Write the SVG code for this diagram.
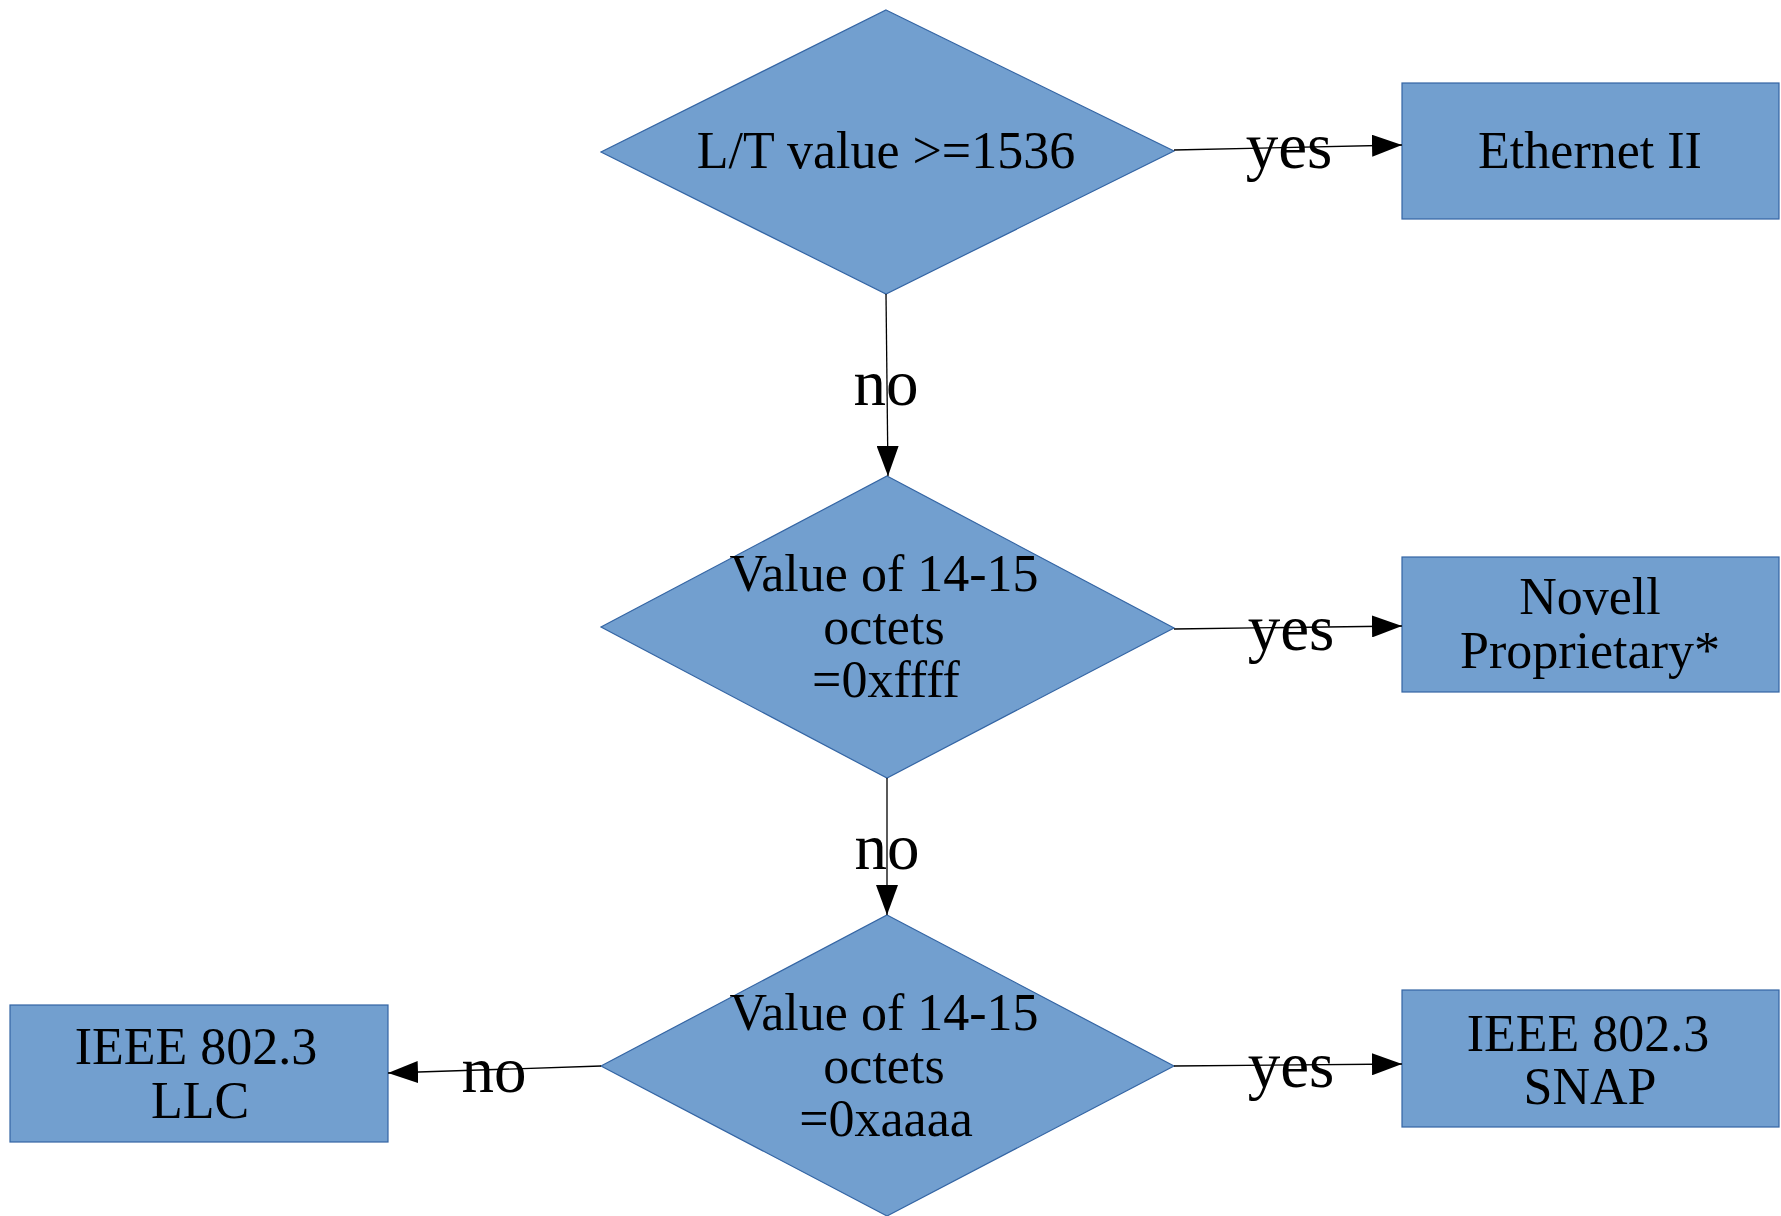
<svg xmlns="http://www.w3.org/2000/svg" width="1781" height="1216" viewBox="0 0 1781 1216">
  <style>
    .shape { fill: #729fcf; stroke: #3465a4; stroke-width: 1.2; }
    .node-text { font-family: "Liberation Serif", "Times New Roman", serif; font-size: 52px; fill: #000; text-anchor: middle; }
    .edge { fill: none; stroke: #000; stroke-width: 1.3; }
    .edge-label { font-family: "Liberation Serif", "Times New Roman", serif; font-size: 65px; fill: #000; text-anchor: middle; }
  </style>
  <defs>
    <marker id="arrow" markerUnits="userSpaceOnUse" markerWidth="30" markerHeight="22" refX="30" refY="11" orient="auto">
      <path d="M0,0 L30,11 L0,22 Z" fill="#000"/>
    </marker>
  </defs>
  <rect width="1781" height="1216" fill="#fff"/>

  <!-- decision: length/type field -->
  <g id="decision-lt">
    <polygon class="shape" points="886,10 1174,151 886,294 601,152"/>
    <text class="node-text" x="886" y="168">L/T value &gt;=1536</text>
  </g>

  <!-- decision: octets 14-15 = 0xffff -->
  <g id="decision-ffff">
    <polygon class="shape" points="887,476 1174,628 887,778 601,627"/>
    <text class="node-text" x="884" y="591">Value of 14-15</text>
    <text class="node-text" x="884" y="644">octets</text>
    <text class="node-text" x="886" y="697">=0xffff</text>
  </g>

  <!-- decision: octets 14-15 = 0xaaaa -->
  <g id="decision-aaaa">
    <polygon class="shape" points="887,915 1174,1066 887,1216 601,1066"/>
    <text class="node-text" x="884" y="1030">Value of 14-15</text>
    <text class="node-text" x="884" y="1083">octets</text>
    <text class="node-text" x="886" y="1136">=0xaaaa</text>
  </g>

  <!-- result frames -->
  <g id="ethernet-ii">
    <rect class="shape" x="1402" y="83" width="377" height="136"/>
    <text class="node-text" x="1590" y="168">Ethernet II</text>
  </g>

  <g id="novell">
    <rect class="shape" x="1402" y="557" width="377" height="135"/>
    <text class="node-text" x="1590" y="614">Novell</text>
    <text class="node-text" x="1590" y="668">Proprietary*</text>
  </g>

  <g id="ieee-snap">
    <rect class="shape" x="1402" y="990" width="377" height="137"/>
    <text class="node-text" x="1588" y="1051">IEEE 802.3</text>
    <text class="node-text" x="1590" y="1104">SNAP</text>
  </g>

  <g id="ieee-llc">
    <rect class="shape" x="10" y="1005" width="378" height="137"/>
    <text class="node-text" x="196" y="1064">IEEE 802.3</text>
    <text class="node-text" x="200" y="1118">LLC</text>
  </g>

  <!-- connectors -->
  <g id="connectors">
    <line class="edge" x1="1174" y1="150" x2="1402" y2="145" marker-end="url(#arrow)"/>
    <text class="edge-label" x="1289" y="168">yes</text>

    <line class="edge" x1="886" y1="294" x2="888" y2="476" marker-end="url(#arrow)"/>
    <text class="edge-label" x="886" y="405">no</text>

    <line class="edge" x1="1174" y1="629" x2="1402" y2="626" marker-end="url(#arrow)"/>
    <text class="edge-label" x="1291" y="650">yes</text>

    <line class="edge" x1="887" y1="778" x2="887" y2="915" marker-end="url(#arrow)"/>
    <text class="edge-label" x="887" y="869">no</text>

    <line class="edge" x1="1174" y1="1066" x2="1402" y2="1064" marker-end="url(#arrow)"/>
    <text class="edge-label" x="1291" y="1087">yes</text>

    <line class="edge" x1="601" y1="1066" x2="388" y2="1073" marker-end="url(#arrow)"/>
    <text class="edge-label" x="494" y="1092">no</text>
  </g>
</svg>
